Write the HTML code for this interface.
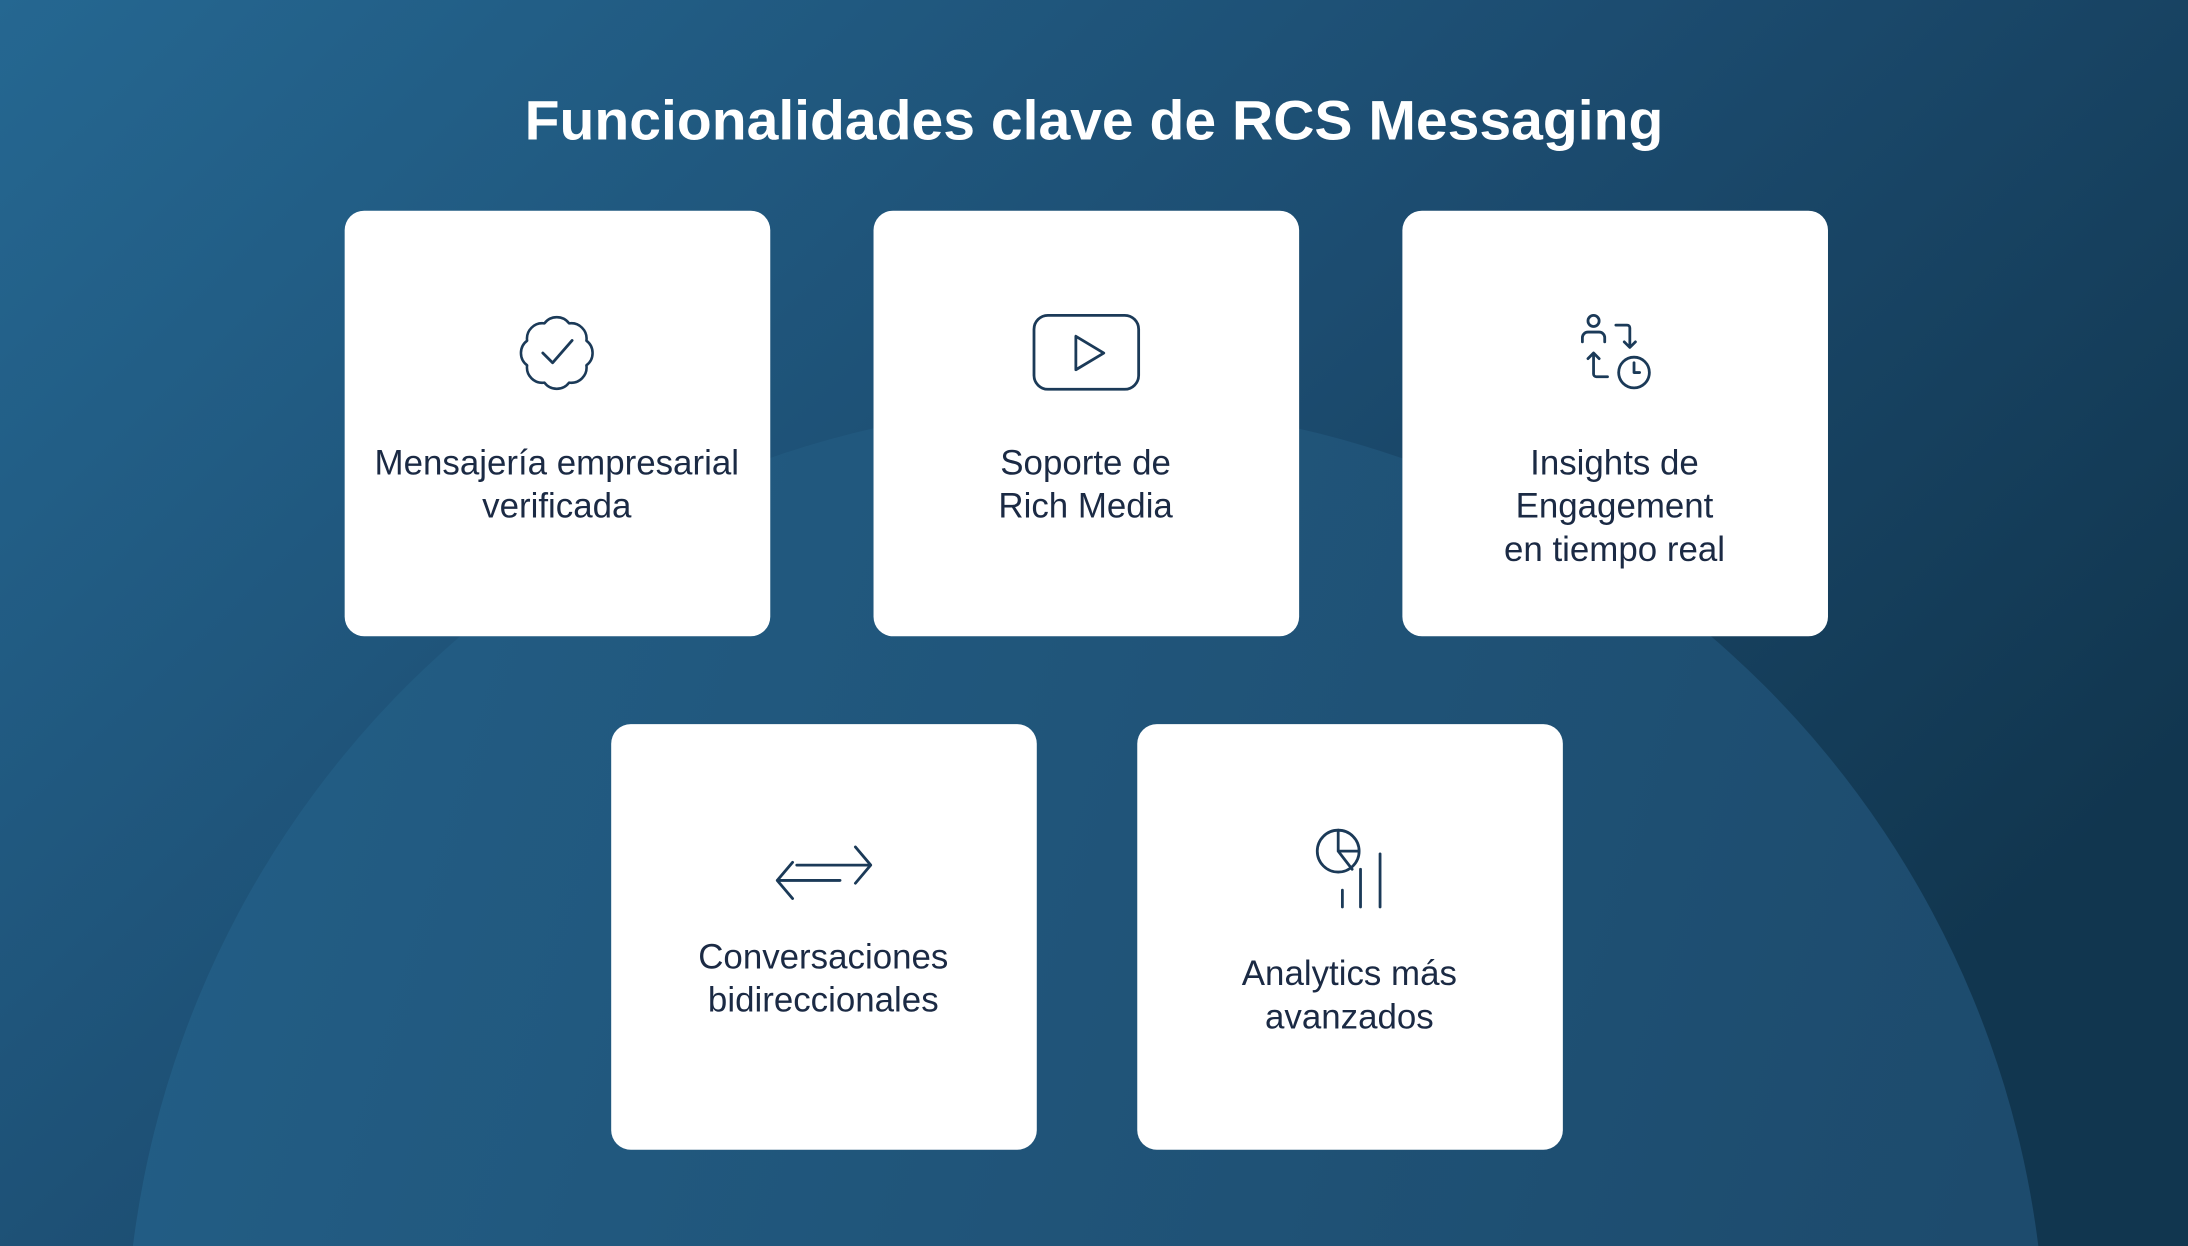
<!DOCTYPE html>
<html><head><meta charset="utf-8"><style>
html,body{margin:0;padding:0;width:2188px;height:1246px;overflow:hidden}
svg{display:block;position:absolute;left:0;top:0}
</style></head><body>
<svg width="2188" height="1246" viewBox="0 0 1568 893" preserveAspectRatio="none" xmlns="http://www.w3.org/2000/svg">
<defs>
<linearGradient id="bg" x1="0" y1="0" x2="1" y2="0.6">
<stop offset="0" stop-color="#256791"/>
<stop offset="0.55" stop-color="#1c4c70"/>
<stop offset="1" stop-color="#11364f"/>
</linearGradient>
<linearGradient id="arc" x1="0" y1="0" x2="1" y2="0.3">
<stop offset="0" stop-color="#235f87"/>
<stop offset="1" stop-color="#1d4b6d"/>
</linearGradient>
</defs>
<rect width="1568" height="893" fill="url(#bg)"/>
<circle cx="778" cy="978" r="688" fill="url(#arc)"/>
<text x="784" y="100" text-anchor="middle" font-family="Liberation Sans, sans-serif" font-weight="bold" font-size="40" fill="#fff" textLength="816" lengthAdjust="spacingAndGlyphs">Funcionalidades clave de RCS Messaging</text>
<g fill="#fff">
<rect x="247" y="151" width="305" height="305" rx="14"/>
<rect x="626" y="151" width="305" height="305" rx="14"/>
<rect x="1005" y="151" width="305" height="305" rx="14"/>
<rect x="438" y="519" width="305" height="305" rx="14"/>
<rect x="815" y="519" width="305" height="305" rx="14"/>
</g>
<g fill="none" stroke="#1b3a58" stroke-width="2" stroke-linecap="round" stroke-linejoin="round">
<g transform="translate(399,253) scale(0.92) translate(-399,-253)">
<path d="M422.1,262.6 A12 12 0 0 1 408.6,276.1 A12 12 0 0 1 389.4,276.1 A12 12 0 0 1 375.9,262.6 A12 12 0 0 1 375.9,243.4 A12 12 0 0 1 389.4,229.9 A12 12 0 0 1 408.6,229.9 A12 12 0 0 1 422.1,243.4 A12 12 0 0 1 422.1,262.6 Z"/>
</g>
<path d="M389,253 l7,7 l14,-16"/>
<rect x="741" y="226" width="75" height="53" rx="10"/>
<path d="M771,241 L771,265 L791,253 Z"/>
<circle cx="1142" cy="230" r="4"/>
<path d="M1134,245 v-3 a4 4 0 0 1 4 -4 h8 a4 4 0 0 1 4 4 v3"/>
<path d="M1158,233 h8 a2 2 0 0 1 2 2 v14 M1164,245 l4,4 4,-4"/>
<path d="M1152,270 h-8 a2 2 0 0 1 -2 -2 v-15 M1138,257 l4,-4 4,4"/>
<circle cx="1171" cy="267" r="11"/>
<path d="M1171,260 v7 h4"/>
<path d="M571,620 h53 M613,607 l11,13 -11,13"/>
<path d="M557,631 h45 M568,618 l-11,13 11,13"/>
<circle cx="959" cy="610" r="15"/>
<path d="M959,595 v15 h15 M959,610 l10,13"/>
<path d="M962,638 v12 M975,623 v27 M989,612 v38"/>
</g>
<g font-family="Liberation Sans, sans-serif" font-size="25" fill="#1b2a44" text-anchor="middle">
<text x="399" y="340">Mensajería empresarial</text>
<text x="399" y="371">verificada</text>
<text x="778" y="340">Soporte de</text>
<text x="778" y="371">Rich Media</text>
<text x="1157" y="340">Insights de</text>
<text x="1157" y="371">Engagement</text>
<text x="1157" y="402">en tiempo real</text>
<text x="590" y="694">Conversaciones</text>
<text x="590" y="725">bidireccionales</text>
<text x="967" y="706">Analytics más</text>
<text x="967" y="737">avanzados</text>
</g>
</svg>
</body></html>
